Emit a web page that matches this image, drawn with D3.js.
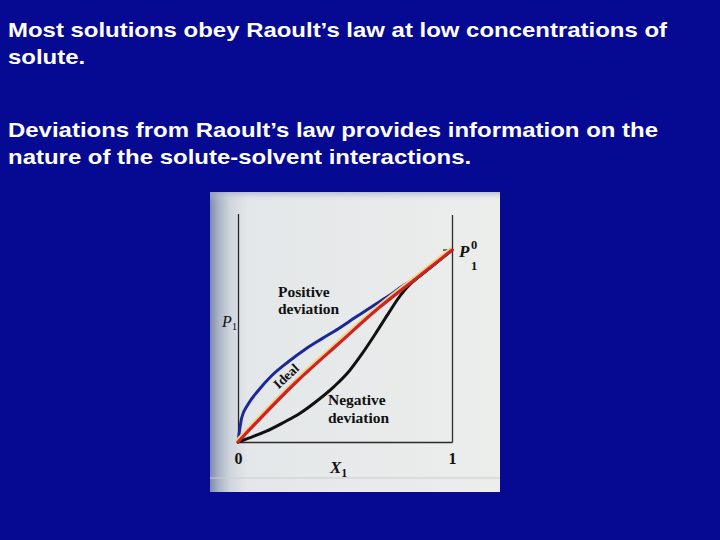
<!DOCTYPE html>
<html>
<head>
<meta charset="utf-8">
<script src="https://cdn.jsdelivr.net/npm/d3@7"></script>
<style>
html,body{margin:0;padding:0;background:#060a92;}
svg{display:block;}
</style>
</head>
<body>
<svg id="chart" width="720" height="540"></svg>
<script>
// ---- text ----
const slideLines = [
  "Most solutions obey Raoult\u2019s law at low concentrations of",
  "solute.",
  "Deviations from Raoult\u2019s law provides information on the",
  "nature of the solute-solvent interactions."
];
// ---- data (mole fraction X1, relative vapour pressure P1/P1°) ----
const positiveX = [0, 0.017, 0.048, 0.095, 0.157, 0.235, 0.313, 0.391, 0.469, 0.547, 0.625, 0.703, 0.78, 0.845, 0.92, 1];
const positiveY = [0, 0.125, 0.198, 0.268, 0.345, 0.418, 0.482, 0.537, 0.590, 0.648, 0.705, 0.760, 0.820, 0.862, 0.928, 1];
const idealX = [0, 0.27, 0.47, 0.66, 0.84, 0.92, 1];
const idealY = [0, 0.31, 0.512, 0.70, 0.858, 0.929, 1];
const negativeX = [0, 0.05, 0.13, 0.21, 0.29, 0.37, 0.45, 0.52, 0.58, 0.64, 0.70, 0.76, 0.81, 0.84, 0.92, 1];
const negativeY = [0, 0.02, 0.055, 0.10, 0.15, 0.215, 0.29, 0.37, 0.46, 0.56, 0.665, 0.765, 0.828, 0.856, 0.928, 1];
const xTickValues = [0, 1];
const xTickLabels = ["0", "1"];

const svg = d3.select("#chart");

// ---- slide title text ----
const tg = svg.append("g").attr("fill", "#ffffff")
  .attr("font-family", "'Liberation Sans', Arial, sans-serif")
  .attr("font-weight", "bold").attr("font-size", 20.5);
const baselines = [37, 64, 137, 164];
const texts = slideLines.map((t, i) => tg.append("text").attr("x", 8).attr("y", baselines[i]).text(t));
const k1 = 659 / texts[0].node().getComputedTextLength();
const k3 = 650 / texts[2].node().getComputedTextLength();
const kAvg = (k1 + k3) / 2;
texts.forEach((t, i) => {
  const k = i === 0 ? k1 : i === 2 ? k3 : kAvg;
  t.attr("textLength", t.node().getComputedTextLength() * k).attr("lengthAdjust", "spacingAndGlyphs");
});

// ---- scanned panel ----
const defs = svg.append("defs");
const grad = defs.append("linearGradient").attr("id", "paper").attr("x1", "0").attr("x2", "1").attr("y1", "0").attr("y2", "0");
[[0, "#7d8bad"], [0.03, "#aab4c6"], [0.07, "#d0d6dd"], [0.13, "#e4e7e9"], [1, "#eceeec"]]
  .forEach(([o, c]) => grad.append("stop").attr("offset", o).attr("stop-color", c));
const gradT = defs.append("linearGradient").attr("id", "paperTop").attr("x1", "0").attr("x2", "0").attr("y1", "0").attr("y2", "1");
[[0, "#9aa6c4", 0.6], [0.03, "#dde1e6", 0.0], [1, "#ffffff", 0]]
  .forEach(([o, c, a]) => gradT.append("stop").attr("offset", o).attr("stop-color", c).attr("stop-opacity", a));

const panel = svg.append("g");
panel.append("rect").attr("x", 210).attr("y", 192).attr("width", 290).attr("height", 300).attr("fill", "url(#paper)");
panel.append("rect").attr("x", 210).attr("y", 192).attr("width", 290).attr("height", 300).attr("fill", "url(#paperTop)");
panel.append("line").attr("x1", 210).attr("x2", 500).attr("y1", 478).attr("y2", 478)
  .attr("stroke", "#cbcdcd").attr("stroke-width", 1);

// ---- chart ----
const x = d3.scaleLinear().domain([0, 1]).range([238, 452]);
const y = d3.scaleLinear().domain([0, 1]).range([442, 250]);
const axisTopLeft = 1.19, axisTopRight = 1.185;

// bottom axis via d3.axisBottom
const xAxis = d3.axisBottom(x).tickValues(xTickValues).tickFormat((d, i) => xTickLabels[i])
  .tickSize(0).tickPadding(11);
const xa = svg.append("g").attr("transform", `translate(0,${y(0)})`).call(xAxis);
xa.select(".domain").attr("stroke", "#2a2a2a").attr("stroke-width", 1.3);
xa.selectAll("text").attr("font-family", "'Liberation Serif', serif").attr("font-weight", "bold")
  .attr("font-size", 16).attr("fill", "#111");
// left and right axes
const ya = svg.append("g").attr("transform", `translate(${x(0)},0)`)
  .call(d3.axisLeft(d3.scaleLinear().domain([0, axisTopLeft]).range([y(0), y(axisTopLeft)])).tickValues([]).tickSizeOuter(0));
ya.select(".domain").attr("stroke", "#2a2a2a").attr("stroke-width", 1.3);
const yr = svg.append("g").attr("transform", `translate(${x(1)},0)`)
  .call(d3.axisRight(d3.scaleLinear().domain([0, axisTopRight]).range([y(0), y(axisTopRight)])).tickValues([]).tickSizeOuter(0));
yr.select(".domain").attr("stroke", "#2a2a2a").attr("stroke-width", 1.3);
// P1° tick
svg.append("line").attr("x1", x(1) - 9).attr("x2", x(1)).attr("y1", y(1)).attr("y2", y(1))
  .attr("stroke", "#2a2a2a").attr("stroke-width", 1.3);

// curves
const line = d3.line().x(d => x(d[0])).y(d => y(d[1])).curve(d3.curveMonotoneX);
const pos = positiveX.map((v, i) => [v, positiveY[i]]);
const ideal = idealX.map((v, i) => [v, idealY[i]]);
const neg = negativeX.map((v, i) => [v, negativeY[i]]);
const cg = svg.append("g").attr("fill", "none").attr("stroke-linecap", "round").attr("stroke-linejoin", "round");
cg.append("path").datum(pos).attr("d", line).attr("stroke", "#1b2896").attr("stroke-width", 3);
cg.append("path").datum(neg).attr("d", line).attr("stroke", "#111111").attr("stroke-width", 3);
cg.append("path").datum(ideal).attr("d", line).attr("stroke", "#f2d58c").attr("stroke-width", 3)
  .attr("transform", "translate(-1.6,-1.2)");
cg.append("path").datum(ideal).attr("d", line).attr("stroke", "#cf2222").attr("stroke-width", 3.2);

// labels
const lab = svg.append("g").attr("font-family", "'Liberation Serif', 'Times New Roman', serif").attr("fill", "#111");
lab.append("text").attr("x", 278).attr("y", 297).attr("font-weight", "bold").attr("font-size", 15.5).text("Positive");
lab.append("text").attr("x", 278).attr("y", 314).attr("font-weight", "bold").attr("font-size", 15.5).text("deviation");
lab.append("text").attr("x", 328).attr("y", 405).attr("font-weight", "bold").attr("font-size", 15.5).text("Negative");
lab.append("text").attr("x", 328).attr("y", 423).attr("font-weight", "bold").attr("font-size", 15.5).text("deviation");
lab.append("text").attr("transform", "translate(286,376) rotate(-43)").attr("text-anchor", "middle")
  .attr("dy", "0.35em").attr("font-weight", "bold").attr("font-size", 13.5).text("Ideal");
// P1 axis label
const p1 = lab.append("text").attr("x", 222).attr("y", 327).attr("font-style", "italic").attr("font-size", 16);
p1.append("tspan").text("P");
p1.append("tspan").attr("font-size", 11).attr("dy", 3).attr("font-style", "normal").text("1");
// P1° label
lab.append("text").attr("x", 459).attr("y", 257).attr("font-style", "italic").attr("font-weight", "bold").attr("font-size", 17).text("P");
lab.append("text").attr("x", 471).attr("y", 249).attr("font-weight", "bold").attr("font-size", 12.5).text("0");
lab.append("text").attr("x", 471).attr("y", 270).attr("font-weight", "bold").attr("font-size", 12.5).text("1");
// X1 label
const x1 = lab.append("text").attr("x", 330).attr("y", 473).attr("font-style", "italic").attr("font-weight", "bold").attr("font-size", 17);
x1.append("tspan").text("X");
x1.append("tspan").attr("font-size", 12).attr("dy", 4).attr("font-style", "normal").text("1");
</script>
</body>
</html>
